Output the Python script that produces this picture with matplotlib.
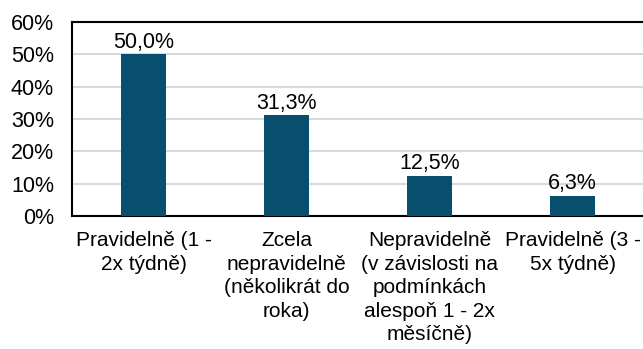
import matplotlib.pyplot as plt
from matplotlib.ticker import PercentFormatter

plt.rcParams['font.family'] = ['Liberation Sans', 'DejaVu Sans']

categories = [
    "Pravidelně (1 -\n2x týdně)",
    "Zcela\nnepravidelně\n(několikrát do\nroka)",
    "Nepravidelně\n(v závislosti na\npodmínkách\nalespoň 1 - 2x\nměsíčně)",
    "Pravidelně (3 -\n5x týdně)",
]
values = [50.0, 31.3, 12.5, 6.3]
labels = ["50,0%", "31,3%", "12,5%", "6,3%"]

fig = plt.figure(figsize=(6.43, 3.49), dpi=100)
ax = fig.add_axes([72 / 643, 133 / 349, 572 / 643, 194 / 349])

x = range(len(values))
bars = ax.bar(x, values, width=0.32, color="#084e6e", zorder=3)
for b, lab in zip(bars, labels):
    ax.text(b.get_x() + b.get_width() / 2, b.get_height() + 0.4, lab,
            ha="center", va="bottom", fontsize=15.5, color="black")

ax.set_xlim(-0.5, 3.5)
ax.set_ylim(0, 60)
ax.set_yticks(range(0, 61, 10))
ax.yaxis.set_major_formatter(PercentFormatter(decimals=0))
ax.grid(axis="y", color="#d9d9d9", linewidth=1.5, zorder=0)

ax.set_xticks(list(x))
ax.set_xticklabels(categories, fontsize=15, linespacing=1.3)
ax.tick_params(axis="x", length=0, pad=11)
ax.tick_params(axis="y", length=0, pad=13, labelsize=15.5)

for s in ax.spines.values():
    s.set_color("black")
    s.set_linewidth(1.5)

fig.savefig("out.png", dpi=100)
